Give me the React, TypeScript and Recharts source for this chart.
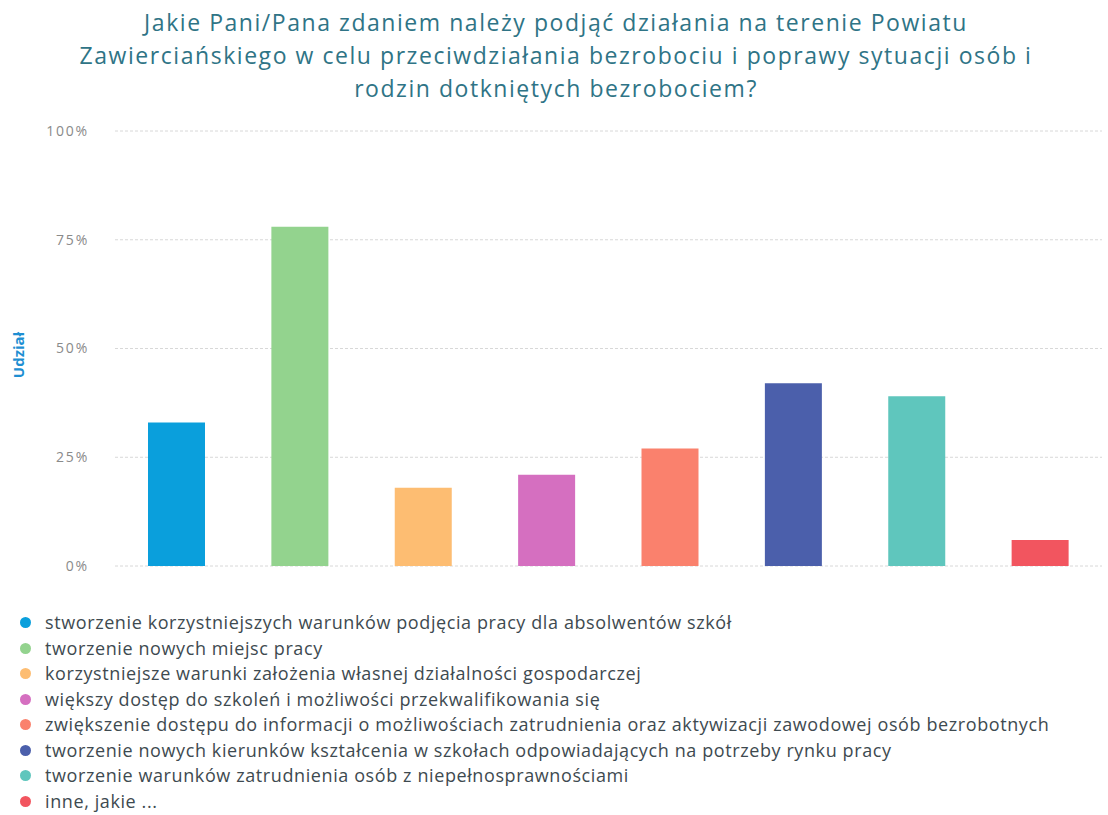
import React from "react";
import { BarChart, Bar, XAxis, YAxis, CartesianGrid, Cell } from "recharts";

const categories = [
  "stworzenie korzystniejszych warunków podjęcia pracy dla absolwentów szkół",
  "tworzenie nowych miejsc pracy",
  "korzystniejsze warunki założenia własnej działalności gospodarczej",
  "większy dostęp do szkoleń i możliwości przekwalifikowania się",
  "zwiększenie dostępu do informacji o możliwościach zatrudnienia oraz aktywizacji zawodowej osób bezrobotnych",
  "tworzenie nowych kierunków kształcenia w szkołach odpowiadających na potrzeby rynku pracy",
  "tworzenie warunków zatrudnienia osób z niepełnosprawnościami",
  "inne, jakie ...",
];
const shares = [33, 78, 18, 21, 27, 42, 39, 6];
const colors = ["#0a9fdc", "#93d38e", "#fdbd72", "#d56fc0", "#fa816d", "#4b5fab", "#5fc6bd", "#f2555f"];
const yTicks = [0, 25, 50, 75, 100];
const title = [
  "Jakie Pani/Pana zdaniem należy podjąć działania na terenie Powiatu",
  "Zawierciańskiego w celu przeciwdziałania bezrobociu i poprawy sytuacji osób i",
  "rodzin dotkniętych bezrobociem?",
];
const yLabel = "Udział";

const data = categories.map((name, i) => ({ name, value: shares[i] }));

export default function App() {
  return (
    <div
      style={{
        position: "absolute",
        left: 0,
        top: 0,
        width: 1108,
        height: 815,
        background: "#fff",
        fontFamily: "'Open Sans', sans-serif",
        overflow: "hidden",
      }}
    >
      <div
        style={{
          position: "absolute",
          left: 0,
          top: 6,
          width: 1112,
          textAlign: "center",
          color: "#2f7486",
          fontSize: 23,
          letterSpacing: 1.55,
          lineHeight: "33px",
        }}
      >
        {title.map((t, i) => (
          <div key={i}>{t}</div>
        ))}
      </div>
      <div
        style={{
          position: "absolute",
          left: 18,
          top: 355,
          transform: "translate(-50%, -50%) rotate(-90deg)",
          color: "#1e8fd2",
          fontWeight: 700,
          fontSize: 15,
          whiteSpace: "nowrap",
        }}
      >
        {yLabel}
      </div>
      <div style={{ position: "absolute", left: 0, top: 0 }}>
        <BarChart
          width={1108}
          height={600}
          data={data}
          margin={{ top: 131, right: 6, bottom: 34, left: 5 }}
        >
          <CartesianGrid vertical={false} stroke="#d8d8d8" strokeDasharray="3 2" />
          <XAxis dataKey="name" hide />
          <YAxis
            width={110}
            domain={[0, 100]}
            ticks={yTicks}
            tickFormatter={(v) => `${v}%`}
            axisLine={false}
            tickLine={false}
            tickMargin={20}
            tick={{ fill: "#8a8a8a", fontSize: 14, letterSpacing: 1.8, fontFamily: "'Open Sans', sans-serif" }}
          />
          <Bar dataKey="value" barSize={57} isAnimationActive={false}>
            {data.map((d, i) => (
              <Cell key={i} fill={colors[i]} />
            ))}
          </Bar>
        </BarChart>
      </div>
      <div
        style={{
          position: "absolute",
          left: 20,
          top: 610,
          color: "#3e4a50",
          fontSize: 18,
          letterSpacing: 0.6,
          lineHeight: "25.5px",
        }}
      >
        {categories.map((c, i) => (
          <div key={i} style={{ display: "flex", alignItems: "center", whiteSpace: "nowrap" }}>
            <span
              style={{
                display: "inline-block",
                width: 11,
                height: 11,
                borderRadius: "50%",
                background: colors[i],
                marginRight: 14,
              }}
            />
            <span>{c}</span>
          </div>
        ))}
      </div>
    </div>
  );
}
